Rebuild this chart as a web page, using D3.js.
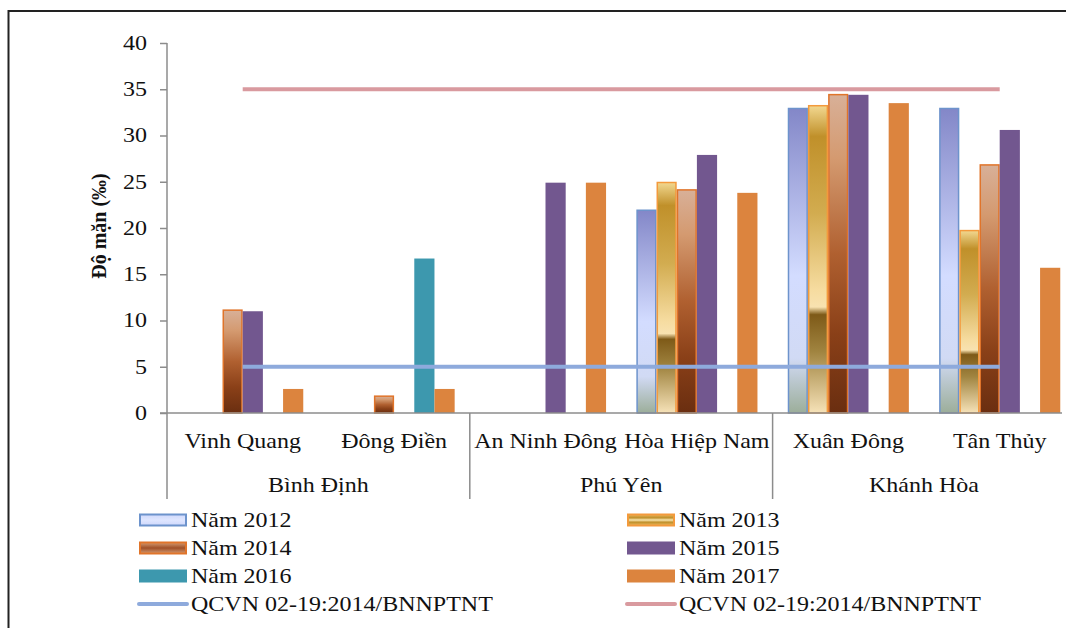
<!DOCTYPE html>
<html>
<head>
<meta charset="utf-8">
<script src="https://cdn.jsdelivr.net/npm/d3@7"></script>
<style>
  html, body { margin: 0; padding: 0; background: #fff; }
  svg { display: block; }
  text { font-family: "Liberation Serif", "Times New Roman", serif; fill: #111; }
</style>
</head>
<body>
<svg id="chart" width="1066" height="628"></svg>
<script>
// ---- data ----
const categories = ["Vinh Quang", "Đông Điền", "An Ninh Đông", "Hòa Hiệp Nam", "Xuân Đông", "Tân Thủy"];
const groupNames = ["Bình Định", "Phú Yên", "Khánh Hòa"];
const groupSizes = [2, 2, 2];
const seriesNames = ["Năm 2012", "Năm 2013", "Năm 2014", "Năm 2015", "Năm 2016", "Năm 2017"];
const v2012 = [null, null, null, 22.0, 33.0, 33.0];
const v2013 = [null, null, null, 25.0, 33.3, 19.8];
const v2014 = [11.2, 1.9, null, 24.2, 34.5, 26.9];
const v2015 = [11.0, null, 24.9, 27.9, 34.4, 30.6];
const v2016 = [null, 16.7, null, null, null, null];
const v2017 = [2.6, 2.6, 24.9, 23.8, 33.5, 15.7];
const lineName = "QCVN 02-19:2014/BNNPTNT";
const qcvnLow = [5, 5, 5, 5, 5, 5];
const qcvnHigh = [35, 35, 35, 35, 35, 35];
const yTicks = [0, 5, 10, 15, 20, 25, 30, 35, 40];
const yTitle = "Độ mặn (‰)";

const seriesValues = [v2012, v2013, v2014, v2015, v2016, v2017];

// ---- setup ----
const svg = d3.select("#chart");
const STRETCH = 1.2;
const plotLeft = 167, plotTop = 43, plotBottom = 413;
const catW = 151.4;

const y = d3.scaleLinear().domain([0, 40]).range([plotBottom, plotTop]);
const x = d3.scaleBand().domain(categories).range([plotLeft, plotLeft + catW * categories.length]).padding(0);
const xs = d3.scaleBand().domain(seriesNames).range([0, x.bandwidth()]).paddingInner(0).paddingOuter(0.75);

// gradients
const defs = svg.append("defs");
function grad(id, stops) {
  const g = defs.append("linearGradient").attr("id", id).attr("x1", 0).attr("y1", 0).attr("x2", 0).attr("y2", 1);
  stops.forEach(s => g.append("stop").attr("offset", s[0]).attr("stop-color", s[1]));
}
grad("g2012", [[0, "#8387c8"], [0.55, "#d3dcff"], [0.82, "#d1daf4"], [1, "#9cae9a"]]);
grad("g2013", [[0, "#f2d890"], [0.1, "#c0902a"], [0.35, "#d2ac50"], [0.6, "#f6dca0"], [0.655, "#f8e2b0"], [0.68, "#7e5a18"], [0.8, "#a08440"], [1, "#f6e2b8"]]);
grad("g2014", [[0, "#d8b098"], [0.2, "#d49a70"], [0.5, "#b06030"], [0.75, "#8a4018"], [1, "#6a2e10"]]);
grad("l2012", [[0, "#cfd8fb"], [0.5, "#dfe6ff"], [1, "#cfd8fb"]]);
grad("l2013", [[0, "#e8b860"], [0.3, "#c0902a"], [0.5, "#f8e6b0"], [0.7, "#c0902a"], [1, "#e8b860"]]);
grad("l2014", [[0, "#d49a70"], [0.5, "#a05028"], [1, "#d49a70"]]);

const fills = ["url(#g2012)", "url(#g2013)", "url(#g2014)", "#72578f", "#3d98ae", "#dc843e"];
const legendFills = ["url(#l2012)", "url(#l2013)", "url(#l2014)", "#72578f", "#3d98ae", "#dc843e"];
const strokes = ["#6d93cc", "#f39a3c", "#e0742a", null, null, null];
const lineColors = ["#8eaadc", "#d99a9f"];

// outer frame
svg.append("line").attr("x1", 8).attr("x2", 1066).attr("y1", 11).attr("y2", 11).attr("stroke", "#222").attr("stroke-width", 2);
svg.append("line").attr("x1", 8.5).attr("x2", 8.5).attr("y1", 10).attr("y2", 628).attr("stroke", "#222").attr("stroke-width", 2);

// bars
seriesValues.forEach((vals, si) => {
  const g = svg.append("g");
  categories.forEach((c, ci) => {
    const v = vals[ci];
    if (v == null) return;
    const x0 = x(c) + xs(seriesNames[si]);
    const r = g.append("rect")
      .attr("x", x0).attr("y", y(v))
      .attr("width", xs.bandwidth()).attr("height", y(0) - y(v))
      .attr("fill", fills[si]);
    if (strokes[si]) {
      r.attr("x", x0 + 0.75).attr("y", y(v) + 0.75)
       .attr("width", xs.bandwidth() - 1.5).attr("height", y(0) - y(v) - 0.75)
       .attr("stroke", strokes[si]).attr("stroke-width", 1.5);
    }
  });
});

// axes
const axisColor = "#8c8c8c";
const yAxis = svg.append("g").attr("transform", `translate(${plotLeft},0)`)
  .call(d3.axisLeft(y).tickValues(yTicks).tickSize(7).tickPadding(13).tickFormat(d3.format("d")));
yAxis.select(".domain").attr("stroke", axisColor).attr("stroke-width", 1.5).attr("d", `M0,${plotTop}V${plotBottom}`);
yAxis.selectAll(".tick line").attr("stroke", axisColor).attr("stroke-width", 1.5);
yAxis.selectAll(".tick text").attr("font-size", 20).attr("font-family", "Liberation Serif").attr("fill", "#222");

// x axis line
svg.append("line").attr("x1", plotLeft - 7).attr("x2", 1062).attr("y1", plotBottom).attr("y2", plotBottom)
  .attr("stroke", axisColor).attr("stroke-width", 1.5);

// category labels
svg.append("g").selectAll("text").data(categories).join("text")
  .attr("class", "stretch")
  .attr("x", d => x(d) + x.bandwidth() / 2)
  .attr("y", 448)
  .attr("text-anchor", "middle")
  .attr("font-size", 20)
  .attr("fill", "#222")
  .text(d => d);

// group dividers and labels
let idx = 0;
groupNames.forEach((gname, gi) => {
  const start = x(categories[idx]);
  const endCat = categories[idx + groupSizes[gi] - 1];
  const end = x(endCat) + x.bandwidth();
  svg.append("line").attr("x1", start).attr("x2", start).attr("y1", plotBottom).attr("y2", 499)
    .attr("stroke", axisColor).attr("stroke-width", 1.5);
  svg.append("text").attr("class", "stretch")
    .attr("x", (start + end) / 2).attr("y", 492)
    .attr("text-anchor", "middle").attr("font-size", 20).attr("fill", "#222")
    .text(gname);
  idx += groupSizes[gi];
});

// reference lines
const lineGen = d3.line().x((d, i) => x(categories[i]) + x.bandwidth() / 2).y(d => y(d));
[qcvnLow, qcvnHigh].forEach((vals, li) => {
  svg.append("path").datum(vals).attr("d", lineGen)
    .attr("fill", "none").attr("stroke", lineColors[li]).attr("stroke-width", 4).attr("stroke-linecap", "butt");
});

// y title
svg.append("text")
  .attr("transform", "translate(106,226) rotate(-90)")
  .attr("text-anchor", "middle")
  .attr("font-size", 20)
  .attr("font-weight", "bold")
  .attr("fill", "#111")
  .text(yTitle);

// legend
const legendItems = seriesNames.map((n, i) => ({ name: n, type: "bar", i }))
  .concat([{ name: lineName, type: "line", i: 0 }, { name: lineName, type: "line", i: 1 }]);
const colX = [139, 627];
const rowY = [520, 548, 576, 604];
legendItems.forEach((it, k) => {
  const cx = colX[k % 2], cy = rowY[Math.floor(k / 2)];
  if (it.type === "bar") {
    const r = svg.append("rect").attr("x", cx).attr("y", cy - 6.5).attr("width", 48).attr("height", 13)
      .attr("fill", legendFills[it.i]);
    if (strokes[it.i]) r.attr("x", cx + 1).attr("y", cy - 5.5).attr("width", 46).attr("height", 11)
      .attr("stroke", strokes[it.i]).attr("stroke-width", 2);
  } else {
    svg.append("line").attr("x1", cx).attr("x2", cx + 48).attr("y1", cy).attr("y2", cy)
      .attr("stroke", lineColors[it.i]).attr("stroke-width", 4).attr("stroke-linecap", "round");
  }
  svg.append("text").attr("class", "stretch")
    .attr("x", cx + 52).attr("y", cy + 7).attr("font-size", 20).attr("fill", "#222")
    .text(it.name);
});

// horizontal stretch of glyphs (about each label's own anchor x) to mimic the reference's aspect
yAxis.selectAll(".tick text").classed("stretch", true);
svg.selectAll("text.stretch").each(function () {
  const ax = +this.getAttribute("x") || 0;
  d3.select(this).attr("transform", `translate(${ax},0) scale(${STRETCH},1) translate(${-ax},0)`);
});
</script>
</body>
</html>
